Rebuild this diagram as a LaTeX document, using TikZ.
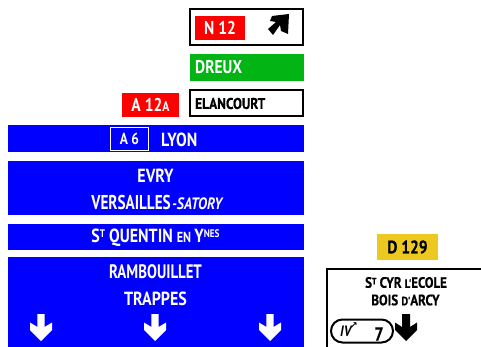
\documentclass[tikz,border=0pt]{standalone}
\usepackage{fontspec}
\setmainfont[FakeStretch=0.84]{PT Sans}
\newfontfamily\nar[FakeStretch=0.76]{PT Sans}
\newfontfamily\blk[FakeStretch=0.86,BoldFeatures={FakeBold=0.6}]{PT Sans}
\newfontfamily\symf{DejaVu Sans}
\tikzset{x=1pt,y=-1pt,
 txt/.style={inner sep=0pt,font=\fontsize{#1}{#1}\selectfont\bfseries},
 wt/.style={txt=#1,text=white},
 nt/.style={inner sep=0pt,text=white,font=\nar\fontsize{#1}{#1}\selectfont\bfseries},
 kt/.style={inner sep=0pt,text=black,font=\blk\fontsize{#1}{#1}\selectfont\bfseries},
 downarrow/.pic={\fill (-3.6,-14)--(3.6,-14)--(3.6,-1)--(11,-5.5)--(11,2)--(0,13)--(-11,2)--(-11,-5.5)--(-3.6,-1)--cycle;},
 fatarrow/.pic={\fill (-4,-14)--(4,-14)--(4,-1)--(11,-5.5)--(11,2)--(0,13)--(-11,2)--(-11,-5.5)--(-4,-1)--cycle;}
}
\definecolor{signblue}{RGB}{0,0,255}
\definecolor{signred}{RGB}{255,0,0}
\definecolor{signgreen}{RGB}{2,180,20}
\definecolor{signyellow}{RGB}{236,200,32}
\begin{document}
\begin{tikzpicture}
\useasboundingbox (0,0) rectangle (481,347);
% top boxes
\node[draw=black,line width=2pt,minimum width=113pt,minimum height=36pt,inner sep=0pt] (top) at (246.5,27) {};
\node[fill=signred,minimum width=50pt,minimum height=24pt,inner sep=0pt] (n12) at (220,28) {};
\node[wt=18.5] at (n12) {N 12};
\fill[black] (272,16)--(289,14)--(288,34)--(281,31)--(280,25)--(273,35)--(268,29)--(276,22)--(270,21)--cycle;
\node[fill=signgreen,minimum width=114pt,minimum height=27pt,inner sep=0pt] (dreux) at (247,67.5) {};
\node[wt=18.5,anchor=west] at (195,67.5) {DREUX};
\node[draw=black,line width=1.8pt,minimum width=113pt,minimum height=26pt,inner sep=0pt] (elan) at (246.5,103) {};
\node[kt=15.5,anchor=west] at (195,103.5) {ELANCOURT};
\node[fill=signred,minimum width=57pt,minimum height=24pt,inner sep=0pt] (a12) at (150.5,105) {};
\node[wt=18.5] at (a12) {A 12\fontsize{14}{14}\selectfont A};
% blue panels
\fill[signblue] (8,125) rectangle (304,152);
\node[draw=white,line width=1.5pt,minimum width=38pt,minimum height=23pt,inner sep=0pt] (a6) at (129.5,139) {};
\node[wt=16] at (a6) {A 6};
\node[wt=19,anchor=west] at (161,140) {LYON};
\fill[signblue] (8,161) rectangle (304,215);
\node[wt=19] at (155.5,176) {EVRY};
\node[nt=20,anchor=east] at (171,203) {VERSAILLES};
\node[wt=16.5,anchor=west] at (172,204) {\itshape -SATORY};
\fill[signblue] (8,224) rectangle (304,250);
\node[wt=19] at (155.5,238) {S\raisebox{5pt}{\fontsize{11}{11}\selectfont T} QUENTIN \fontsize{14.5}{14.5}\selectfont EN \fontsize{19}{19}\selectfont Y\raisebox{5pt}{\fontsize{11}{11}\selectfont NES}};
\fill[signblue] (8,257) rectangle (304,347);
\node[nt=19.5] at (155.5,272) {RAMBOUILLET};
\node[wt=19] at (155.5,299) {TRAPPES};
\foreach \p in {41,155,270} \path[fill=white] (\p,328) pic {downarrow};
% right side
\node[fill=signyellow,minimum width=61pt,minimum height=26pt,inner sep=0pt] (d129) at (407.5,247) {};
\node[kt=18] at (d129) {D 129};
\draw[black,line width=2pt] (326.5,347)--(326.5,268.5)--(481,268.5);
\node[kt=15] at (406,282.5) {S\raisebox{3.5pt}{\fontsize{9}{9}\selectfont T} CYR \fontsize{12}{12}\selectfont L'\fontsize{15}{15}\selectfont ECOLE};
\node[kt=15] at (405.5,300) {BOIS \fontsize{12}{12}\selectfont D'\fontsize{15}{15}\selectfont ARCY};
\draw[black,line width=2pt,rounded corners=11.5pt] (331,319.5) rectangle (393,342.5);
\node[kt=15,anchor=west] at (340,331) {\itshape IV};
\node[txt=9,anchor=west] at (350,326) {\symf ↗};
\node[kt=19] at (379,334) {7};
\path[fill=black] (406,328) pic {fatarrow};
\end{tikzpicture}
\end{document}
